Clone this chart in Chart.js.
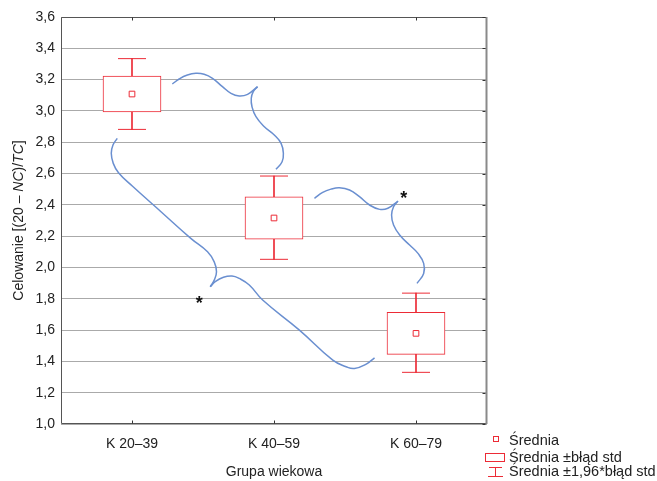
<!DOCTYPE html>
<html>
<head>
<meta charset="utf-8">
<script src="https://cdn.jsdelivr.net/npm/chart.js@4.4.0/dist/chart.umd.min.js"></script>
<style>
  html, body { margin: 0; padding: 0; background: #fff; }
  #wrap { width: 657px; height: 481px; position: relative; }
</style>
</head>
<body>
<div id="wrap"><canvas id="chart"></canvas></div>
<script>
(function () {
    'use strict';

    // Box plot values (mean, mean ± SE, mean ± 1.96*SE)
    const groups = ['K 20–39', 'K 40–59', 'K 60–79'];
    const means = [3.108, 2.316, 1.579];
    const seLow = [2.993, 2.181, 1.445];
    const seHigh = [3.223, 2.452, 1.713];
    const ciLow = [2.882, 2.052, 1.330];
    const ciHigh = [3.334, 2.584, 1.836];

    // Y axis range / ticks
    const yMin = 1.0;
    const yMax = 3.6;
    const yStep = 0.2;

    // Blue braces, in (group index, value) units; each brace = two arms meeting at the tip
    const braceA1 = [[0.284, 3.172], [0.332, 3.204], [0.390, 3.229], [0.450, 3.240], [0.508, 3.234], [0.567, 3.208],
        [0.637, 3.155], [0.697, 3.112], [0.755, 3.095], [0.814, 3.106], [0.884, 3.155]];
    const braceA2 = [[0.884, 3.155], [0.854, 3.123], [0.840, 3.081], [0.845, 3.027], [0.873, 2.963], [0.932, 2.899],
        [1.002, 2.846], [1.050, 2.793], [1.066, 2.729], [1.057, 2.675], [1.014, 2.627]];
    const braceB1 = [[-0.104, 2.825], [-0.134, 2.782], [-0.146, 2.729], [-0.132, 2.665], [-0.095, 2.605], [0.002, 2.520],
        [0.208, 2.353], [0.414, 2.186], [0.532, 2.100], [0.579, 2.036], [0.595, 1.973], [0.579, 1.919], [0.551, 1.877]];
    const braceB2 = [[0.551, 1.877], [0.586, 1.909], [0.644, 1.937], [0.704, 1.945], [0.755, 1.930], [0.826, 1.888],
        [0.920, 1.792], [1.179, 1.600], [1.414, 1.408], [1.508, 1.366], [1.567, 1.355], [1.650, 1.383], [1.708, 1.423]];
    const braceC1 = [[1.285, 2.442], [1.343, 2.480], [1.403, 2.501], [1.461, 2.509], [1.532, 2.495], [1.602, 2.452],
        [1.673, 2.399], [1.744, 2.371], [1.802, 2.378], [1.873, 2.424]];
    const braceC2 = [[1.873, 2.424], [1.842, 2.388], [1.828, 2.335], [1.842, 2.271], [1.885, 2.207], [1.955, 2.143],
        [2.014, 2.090], [2.054, 2.026], [2.054, 1.962], [2.007, 1.898]];

    // Significance asterisks
    const starX = [0.473, 1.913];
    const starY = [1.800, 2.470];

    const legendLabels = ['Średnia', 'Średnia ±błąd std', 'Średnia ±1,96*błąd std'];

    const RED = '#ec2b36';
    const BLUE = '#6a8fd0';
    const FONT = '"Liberation Sans", Arial, Helvetica, sans-serif';

    Chart.defaults.font.family = FONT;
    Chart.defaults.font.size = 14;
    Chart.defaults.color = '#222';

    function braceDataset(points) {
        return {
            type: 'line',
            xAxisID: 'xb',
            data: points.map(p => ({ x: p[0], y: p[1] })),
            borderColor: BLUE,
            borderWidth: 1.5,
            pointRadius: 0,
            tension: 0.45,
            fill: false,
            order: 5
        };
    }

    const decorations = {
        id: 'decorations',
        afterDatasetsDraw(chart) {
            const { ctx, chartArea: a, scales } = chart;
            const L = Math.round(a.left) + 0.5;
            const R = Math.round(a.right) - 0.5;
            const T = Math.round(a.top) + 0.5;
            const B = Math.round(a.bottom) - 0.5;
            ctx.save();

            // frame
            ctx.strokeStyle = '#555';
            ctx.lineWidth = 1;
            ctx.beginPath();
            ctx.moveTo(R, T); ctx.lineTo(L, T); ctx.lineTo(L, B); ctx.lineTo(R, B);
            ctx.stroke();
            ctx.strokeStyle = '#8a8a8a';
            ctx.lineWidth = 2;
            ctx.beginPath();
            ctx.moveTo(R, T - 0.5); ctx.lineTo(R, B + 0.5);
            ctx.stroke();

            // inner tick marks
            ctx.strokeStyle = '#333';
            ctx.lineWidth = 1;
            ctx.beginPath();
            groups.forEach((g, i) => {
                const x = Math.round(scales.x.getPixelForValue(i)) + 0.5;
                ctx.moveTo(x, B); ctx.lineTo(x, B - 3);
                ctx.moveTo(x, T); ctx.lineTo(x, T + 3);
            });
            scales.y.ticks.forEach(t => {
                const y = Math.round(scales.y.getPixelForValue(t.value)) + 0.5;
                ctx.moveTo(R - 1, y); ctx.lineTo(R - 4, y);
            });
            ctx.stroke();

            // asterisks
            ctx.fillStyle = '#111';
            ctx.font = 'bold 18px ' + FONT;
            ctx.textAlign = 'center';
            ctx.textBaseline = 'alphabetic';
            starX.forEach((sx, i) => {
                const px = scales.xb.getPixelForValue(sx);
                const py = scales.y.getPixelForValue(starY[i]);
                ctx.fillText('*', px, py + 10);
            });

            // y axis title with italic parts
            const parts = [
                ['Celowanie [(20 – ', false],
                ['NC', true],
                [')/', false],
                ['TC', true],
                [']', false]
            ];
            const fontOf = it => (it ? 'italic ' : '') + '14px ' + FONT;
            let total = 0;
            parts.forEach(p => { ctx.font = fontOf(p[1]); total += ctx.measureText(p[0]).width; });
            ctx.translate(19, (a.top + a.bottom) / 2);
            ctx.rotate(-Math.PI / 2);
            ctx.textAlign = 'left';
            ctx.textBaseline = 'middle';
            ctx.fillStyle = '#222';
            let cx = -total / 2;
            parts.forEach(p => {
                ctx.font = fontOf(p[1]);
                ctx.fillText(p[0], cx, 0);
                cx += ctx.measureText(p[0]).width;
            });
            ctx.restore();

            // legend
            ctx.save();
            const lx = a.right;
            ctx.strokeStyle = RED;
            ctx.lineWidth = 1;
            ctx.strokeRect(lx + 6.5, 436.5, 5, 5);
            ctx.strokeRect(lx - 1.5, 453.5, 19, 8);
            ctx.beginPath();
            ctx.moveTo(lx + 2, 467.5); ctx.lineTo(lx + 15, 467.5);
            ctx.moveTo(lx + 8.5, 467.5); ctx.lineTo(lx + 8.5, 476.5);
            ctx.moveTo(lx + 1, 476.5); ctx.lineTo(lx + 16, 476.5);
            ctx.stroke();
            ctx.fillStyle = '#222';
            ctx.font = '14.5px ' + FONT;
            ctx.textAlign = 'left';
            ctx.textBaseline = 'middle';
            const ly = [441, 458, 472];
            legendLabels.forEach((t, i) => ctx.fillText(t, lx + 22, ly[i]));
            ctx.restore();
        }
    };

    new Chart(document.getElementById('chart'), {
        type: 'bar',
        data: {
            labels: groups,
            datasets: [
                {
                    type: 'line',
                    data: means,
                    showLine: false,
                    pointStyle: 'rect',
                    pointRadius: 4,
                    pointBackgroundColor: '#fff',
                    pointBorderColor: RED,
                    pointBorderWidth: 1,
                    order: 0
                },
                {
                    type: 'line',
                    data: ciHigh,
                    showLine: false,
                    pointStyle: 'line',
                    pointRadius: 14,
                    pointBorderColor: RED,
                    pointBorderWidth: 1,
                    order: 1
                },
                {
                    type: 'line',
                    data: ciLow,
                    showLine: false,
                    pointStyle: 'line',
                    pointRadius: 14,
                    pointBorderColor: RED,
                    pointBorderWidth: 1,
                    order: 1
                },
                {
                    data: groups.map((g, i) => [seLow[i], seHigh[i]]),
                    backgroundColor: '#fff',
                    borderColor: RED,
                    borderWidth: 1,
                    borderSkipped: false,
                    barThickness: 58,
                    grouped: false,
                    order: 2
                },
                {
                    data: groups.map((g, i) => [ciLow[i], ciHigh[i]]),
                    backgroundColor: RED,
                    borderWidth: 0,
                    barThickness: 1,
                    grouped: false,
                    order: 3
                },
                braceDataset(braceA1),
                braceDataset(braceA2),
                braceDataset(braceB1),
                braceDataset(braceB2),
                braceDataset(braceC1),
                braceDataset(braceC2)
            ]
        },
        options: {
            responsive: true,
            maintainAspectRatio: false,
            animation: false,
            events: [],
            layout: { padding: { left: 0, right: 170, top: 17, bottom: 0 } },
            scales: {
                x: {
                    type: 'category',
                    offset: true,
                    grid: { display: false, drawTicks: false },
                    border: { display: false },
                    ticks: { padding: 12, color: '#222', font: { size: 14 } },
                    title: {
                        display: true,
                        text: 'Grupa wiekowa',
                        color: '#222',
                        font: { size: 14 },
                        padding: { top: 0, bottom: 0 }
                    },
                    afterFit(scale) { scale.height = 57; }
                },
                xb: {
                    type: 'linear',
                    display: false,
                    min: -0.5,
                    max: 2.5,
                    offset: false
                },
                y: {
                    min: yMin,
                    max: yMax,
                    grid: { color: '#aaa', lineWidth: 1, drawTicks: false },
                    border: { display: false },
                    ticks: {
                        stepSize: yStep,
                        padding: 6,
                        color: '#222',
                        font: { size: 14 },
                        callback: v => v.toFixed(1).replace('.', ',')
                    },
                    afterFit(scale) { scale.width = 61; }
                }
            },
            plugins: {
                legend: { display: false },
                tooltip: { enabled: false }
            }
        },
        plugins: [decorations]
    });
})();
</script>
</body>
</html>
